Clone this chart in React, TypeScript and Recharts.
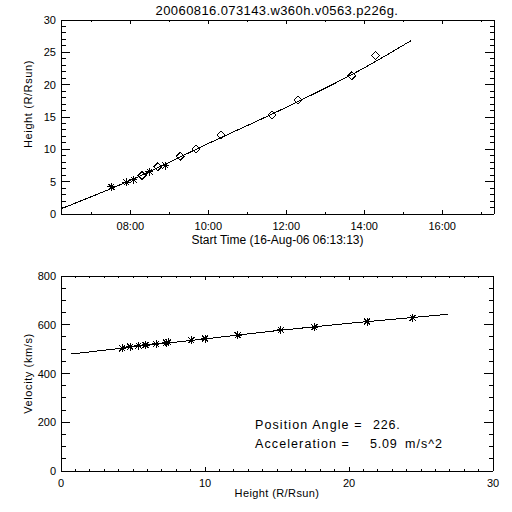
import { ComposedChart, Line, Scatter, XAxis, YAxis, Label } from "recharts";

const TITLE = "20060816.073143.w360h.v0563.p226g.";

// height-time panel (time in hours on 16-Aug-06)
const C2_TIME = [7.51, 7.9, 8.08, 8.49, 8.9];
const C2_HEIGHT = [4.2, 4.9, 5.3, 6.55, 7.5];
const C3_TIME = [8.3, 8.7, 9.28, 9.68, 10.33, 11.64, 12.3, 13.68, 14.29];
const C3_HEIGHT = [5.95, 7.3, 8.95, 10.05, 12.2, 15.3, 17.6, 21.4, 24.5];
const FIT_TIME = [6.22, 8, 10, 12, 14, 15.2];
const FIT_HEIGHT = [0.8, 5.2, 10.9, 16.5, 22.6, 26.8];

// velocity-height panel
const V_HEIGHT = [4.25, 4.8, 5.38, 5.88, 6.6, 7.3, 7.45, 9.05, 10.0, 12.27, 15.27, 17.6, 21.25, 24.42];
const V_VALUE = [503, 510, 514, 517, 522, 526, 528, 537, 543, 557, 579, 590, 613, 629];
const VFIT_HEIGHT = [0.7, 5, 10, 15, 20, 26.9];
const VFIT_VALUE = [480, 509, 542, 576, 606, 643];

const TIME_START = 6 + 13 / 60 + 13 / 3600;
const TIME_END = 17.33;
const TIME_MAJOR = [8, 10, 12, 14, 16];
const TIME_LABELS = ["08:00", "10:00", "12:00", "14:00", "16:00"];
const TIME_MINOR = [7, 9, 11, 13, 15, 17];
const HT_MAJOR = [0, 5, 10, 15, 20, 25, 30];
const HT_STEP = 1;
const VX_MAJOR = [0, 10, 20, 30];
const VX_STEP = 1;
const VEL_MAJOR = [0, 200, 400, 600, 800];
const VEL_STEP = 50;

const FONT = '"Liberation Sans", Arial, sans-serif';

const steps = (lo: number, hi: number, step: number) => {
  const out: number[] = [];
  for (let v = lo; v <= hi + 1e-9; v += step) out.push(+v.toFixed(6));
  return out;
};

const toXY = (xs: number[], ys: number[]) => xs.map((x, i) => ({ x, y: ys[i] }));

type Side = "bottom" | "top" | "left" | "right";

// IDL style: ticks point into the box, minor ticks half length
function inTick(side: Side, majors: number[], len: number, label?: (v: number) => string) {
  return (p: any) => {
    const x = Number(p.x);
    const y = Number(p.y);
    const v = p.payload.value;
    const major = majors.some((m) => Math.abs(m - v) < 1e-6);
    const l = major ? len : len / 2;
    let x2 = x, y2 = y;
    if (side === "bottom") y2 = y - l;
    if (side === "top") y2 = y + l;
    if (side === "left") x2 = x + l;
    if (side === "right") x2 = x - l;
    return (
      <g>
        <line x1={x} y1={y} x2={x2} y2={y2} stroke="#000" strokeWidth={1} />
        {label && major && (side === "bottom" ? (
          <text x={x} y={y + 16} textAnchor="middle" fontSize={11} fontFamily={FONT} fill="#000" stroke="none">
            {label(v)}
          </text>
        ) : (
          <text x={x - 5} y={y + 4} textAnchor="end" fontSize={11} fontFamily={FONT} fill="#000" stroke="none">
            {label(v)}
          </text>
        ))}
      </g>
    );
  };
}

const Asterisk = ({ cx, cy }: any) => (
  <g stroke="#000" strokeWidth={1}>
    <line x1={cx - 4} y1={cy} x2={cx + 4} y2={cy} />
    <line x1={cx} y1={cy - 4} x2={cx} y2={cy + 4} />
    <line x1={cx - 3} y1={cy - 3} x2={cx + 3} y2={cy + 3} />
    <line x1={cx - 3} y1={cy + 3} x2={cx + 3} y2={cy - 3} />
  </g>
);

const Diamond = ({ cx, cy }: any) => (
  <path d={`M${cx},${cy - 4}L${cx + 4},${cy}L${cx},${cy + 4}L${cx - 4},${cy}Z`} fill="none" stroke="#000" strokeWidth={1} />
);

const axisLine = { stroke: "#000", strokeWidth: 1 };

function HeightTime() {
  const xTicks = [...TIME_MINOR, ...TIME_MAJOR].sort((a, b) => a - b);
  const yTicks = steps(0, 30, HT_STEP);
  const timeLabel = (v: number) => TIME_LABELS[TIME_MAJOR.indexOf(v)];
  return (
    <ComposedChart width={512} height={250} margin={{ top: 19, right: 17, bottom: 0, left: 0 }}>
      <XAxis xAxisId="b" dataKey="x" type="number" domain={[TIME_START, TIME_END]} allowDataOverflow
        ticks={xTicks} interval={0} tickSize={0} tickMargin={0} tickLine={false} axisLine={axisLine} height={36}
        tick={inTick("bottom", TIME_MAJOR, 4, timeLabel)}>
        <Label content={(p: any) => (
          <text x={p.viewBox.x + p.viewBox.width / 2} y={p.viewBox.y + 30} textAnchor="middle"
            fontSize={12} fontFamily={FONT} fill="#000">Start Time (16-Aug-06 06:13:13)</text>
        )} />
      </XAxis>
      <XAxis xAxisId="t" orientation="top" dataKey="x" type="number" domain={[TIME_START, TIME_END]} allowDataOverflow
        ticks={xTicks} interval={0} tickSize={0} tickMargin={0} tickLine={false} axisLine={axisLine} height={1}
        tick={inTick("top", TIME_MAJOR, 4)} />
      <YAxis yAxisId="l" dataKey="y" type="number" domain={[0, 30]} allowDataOverflow
        ticks={yTicks} interval={0} tickSize={0} tickMargin={0} tickLine={false} axisLine={axisLine} width={61}
        tick={inTick("left", HT_MAJOR, 9, (v) => String(v))}>
        <Label content={() => (
          <g fill="#000" fontFamily={FONT}>
            <text x={277} y={15} textAnchor="middle" fontSize={13} letterSpacing={0.4}>{TITLE}</text>
            <text x={32} y={104} transform="rotate(-90 32 104)" textAnchor="middle"
              fontSize={11} letterSpacing={0.6}>Height (R/Rsun)</text>
          </g>
        )} />
      </YAxis>
      <YAxis yAxisId="r" orientation="right" dataKey="y" type="number" domain={[0, 30]} allowDataOverflow
        ticks={yTicks} interval={0} tickSize={0} tickMargin={0} tickLine={false} axisLine={axisLine} width={1}
        tick={inTick("right", HT_MAJOR, 9)} />
      <Line xAxisId="b" yAxisId="l" data={toXY(FIT_TIME, FIT_HEIGHT)} dataKey="y" type="monotone"
        stroke="#000" strokeWidth={1} dot={false} activeDot={false} isAnimationActive={false} />
      <Scatter xAxisId="b" yAxisId="l" data={toXY(C2_TIME, C2_HEIGHT)} dataKey="y"
        shape={(p: any) => <Asterisk cx={p.cx} cy={p.cy} />} isAnimationActive={false} />
      <Scatter xAxisId="b" yAxisId="l" data={toXY(C3_TIME, C3_HEIGHT)} dataKey="y"
        shape={(p: any) => <Diamond cx={p.cx} cy={p.cy} />} isAnimationActive={false} />
    </ComposedChart>
  );
}

function VelocityHeight() {
  const xTicks = steps(0, 30, VX_STEP);
  const yTicks = steps(0, 800, VEL_STEP);
  return (
    <ComposedChart width={512} height={256} margin={{ top: 19, right: 18, bottom: 0, left: 0 }}>
      <XAxis xAxisId="b" dataKey="x" type="number" domain={[0, 30]} allowDataOverflow
        ticks={xTicks} interval={0} tickSize={0} tickMargin={0} tickLine={false} axisLine={axisLine} height={41}
        tick={inTick("bottom", VX_MAJOR, 4, (v) => String(v))}>
        <Label content={(p: any) => (
          <text x={p.viewBox.x + p.viewBox.width / 2} y={p.viewBox.y + 26} textAnchor="middle"
            fontSize={11} letterSpacing={0.4} fontFamily={FONT} fill="#000">Height (R/Rsun)</text>
        )} />
      </XAxis>
      <XAxis xAxisId="t" orientation="top" dataKey="x" type="number" domain={[0, 30]} allowDataOverflow
        ticks={xTicks} interval={0} tickSize={0} tickMargin={0} tickLine={false} axisLine={axisLine} height={1}
        tick={inTick("top", VX_MAJOR, 4)} />
      <YAxis yAxisId="l" dataKey="y" type="number" domain={[0, 800]} allowDataOverflow
        ticks={yTicks} interval={0} tickSize={0} tickMargin={0} tickLine={false} axisLine={axisLine} width={61}
        tick={inTick("left", VEL_MAJOR, 9, (v) => String(v))}>
        <Label content={(p: any) => {
          const cy = p.viewBox.y + p.viewBox.height / 2;
          return (
            <g fill="#000" fontFamily={FONT}>
              <text x={32} y={cy} transform={`rotate(-90 32 ${cy})`} textAnchor="middle"
                fontSize={11} letterSpacing={0.6}>Velocity (km/s)</text>
              <text y={173} fontSize={12.5}>
                <tspan x={255} letterSpacing={1.1}>Position Angle =</tspan>
                <tspan x={373} letterSpacing={0.8}>226.</tspan>
              </text>
              <text y={192} fontSize={12.5}>
                <tspan x={255} letterSpacing={1.1}>Acceleration =</tspan>
                <tspan x={370} letterSpacing={0.8}>5.09</tspan>
                <tspan x={405} letterSpacing={1}>m/s^2</tspan>
              </text>
            </g>
          );
        }} />
      </YAxis>
      <YAxis yAxisId="r" orientation="right" dataKey="y" type="number" domain={[0, 800]} allowDataOverflow
        ticks={yTicks} interval={0} tickSize={0} tickMargin={0} tickLine={false} axisLine={axisLine} width={1}
        tick={inTick("right", VEL_MAJOR, 9)} />
      <Line xAxisId="b" yAxisId="l" data={toXY(VFIT_HEIGHT, VFIT_VALUE)} dataKey="y" type="monotone"
        stroke="#000" strokeWidth={1} dot={false} activeDot={false} isAnimationActive={false} />
      <Scatter xAxisId="b" yAxisId="l" data={toXY(V_HEIGHT, V_VALUE)} dataKey="y"
        shape={(p: any) => <Asterisk cx={p.cx} cy={p.cy} />} isAnimationActive={false} />
    </ComposedChart>
  );
}

export default function App() {
  return (
    <div style={{ position: "absolute", left: 0, top: 0, width: 512, height: 512, background: "#fff", shapeRendering: "crispEdges" }}>
      <div style={{ position: "absolute", left: 0, top: 0 }}>
        <HeightTime />
      </div>
      <div style={{ position: "absolute", left: 0, top: 256 }}>
        <VelocityHeight />
      </div>
    </div>
  );
}
